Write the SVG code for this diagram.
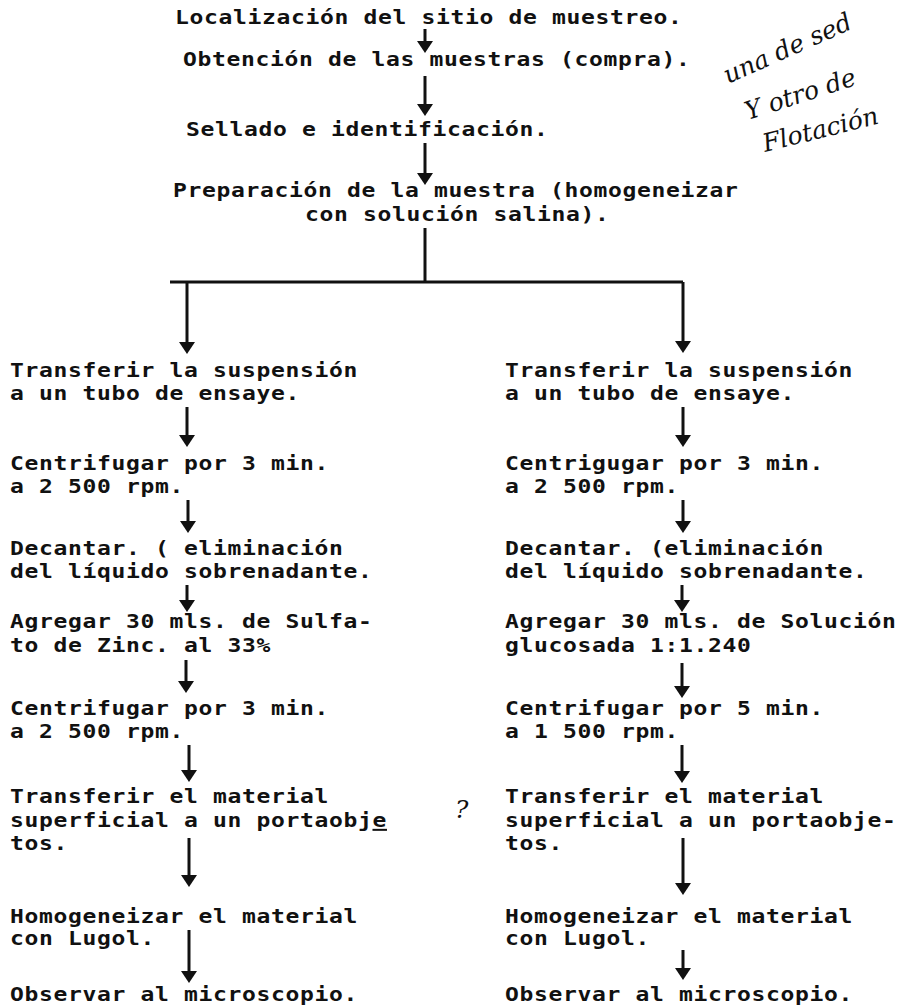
<svg xmlns="http://www.w3.org/2000/svg" width="905" height="1006" viewBox="0 0 905 1006">
<style>
.t{font-family:"DejaVu Sans Mono","Liberation Mono",monospace;font-weight:bold;font-size:20px;letter-spacing:0.57px;fill:#111;white-space:pre;transform-box:fill-box;transform-origin:0 0;transform:scaleX(1.15)}
.c{stroke:#111;stroke-width:3;fill:none}
.h{font-family:"DejaVu Serif","Liberation Serif",serif;font-style:italic;font-size:25px;fill:#111}
</style>
<defs>
<marker id="ah" markerUnits="userSpaceOnUse" markerWidth="14" markerHeight="18" refX="6" refY="8" orient="auto" viewBox="0 0 14 18">
<path d="M0,0 L12,8 L0,16 Z" fill="#111"/>
</marker>
</defs>
<rect width="905" height="1006" fill="#fff"/>

<g id="connectors">
<path class="c" d="M425,29 V47" marker-end="url(#ah)"/>
<path class="c" d="M425,76 V110" marker-end="url(#ah)"/>
<path class="c" d="M425,143 V179" marker-end="url(#ah)"/>
<path class="c" d="M425,228 V282"/>
<path class="c" d="M170,282 H683"/>
<path class="c" d="M187,282 V348" marker-end="url(#ah)"/>
<path class="c" d="M683,282 V347" marker-end="url(#ah)"/>
<path class="c" d="M187,407 V441" marker-end="url(#ah)"/>
<path class="c" d="M188,500 V527" marker-end="url(#ah)"/>
<path class="c" d="M187,585 V606" marker-end="url(#ah)"/>
<path class="c" d="M186,660 V687" marker-end="url(#ah)"/>
<path class="c" d="M189,745 V776" marker-end="url(#ah)"/>
<path class="c" d="M189,838 V881" marker-end="url(#ah)"/>
<path class="c" d="M189,930 V977" marker-end="url(#ah)"/>
<path class="c" d="M683,407 V441" marker-end="url(#ah)"/>
<path class="c" d="M683,500 V527" marker-end="url(#ah)"/>
<path class="c" d="M682,585 V606" marker-end="url(#ah)"/>
<path class="c" d="M682,663 V692" marker-end="url(#ah)"/>
<path class="c" d="M682,745 V777" marker-end="url(#ah)"/>
<path class="c" d="M683,838 V889" marker-end="url(#ah)"/>
<path class="c" d="M683,950 V974" marker-end="url(#ah)"/>
</g>

<g id="n1"><text class="t" x="175" y="24">Localización del sitio de muestreo.</text></g>
<g id="n2"><text class="t" x="183" y="66">Obtención de las muestras (compra).</text></g>
<g id="n3"><text class="t" x="186" y="136">Sellado e identificación.</text></g>
<g id="n4"><text class="t" x="173" y="197">Preparación de la muestra (homogeneizar</text><text class="t" x="305" y="221">con solución salina).</text></g>

<g id="L1"><text class="t" x="10" y="377">Transferir la suspensión</text><text class="t" x="10" y="400">a un tubo de ensaye.</text></g>
<g id="L2"><text class="t" x="10" y="470">Centrifugar por 3 min.</text><text class="t" x="10" y="493">a 2 500 rpm.</text></g>
<g id="L3"><text class="t" x="10" y="555">Decantar. ( eliminación</text><text class="t" x="10" y="578">del líquido sobrenadante.</text></g>
<g id="L4"><text class="t" x="10" y="628">Agregar 30 mls. de Sulfa-</text><text class="t" x="10" y="652">to de Zinc. al 33%</text></g>
<g id="L5"><text class="t" x="10" y="715">Centrifugar por 3 min.</text><text class="t" x="10" y="738">a 2 500 rpm.</text></g>
<g id="L6"><text class="t" x="10" y="803">Transferir el material</text><text class="t" x="10" y="827">superficial a un portaobj<tspan text-decoration="underline">e</tspan></text><text class="t" x="10" y="850">tos.</text></g>
<g id="L7"><text class="t" x="10" y="923">Homogeneizar el material</text><text class="t" x="10" y="945">con Lugol.</text></g>
<g id="L8"><text class="t" x="10" y="1001">Observar al microscopio.</text></g>

<g id="R1"><text class="t" x="505" y="377">Transferir la suspensión</text><text class="t" x="505" y="400">a un tubo de ensaye.</text></g>
<g id="R2"><text class="t" x="505" y="470">Centrigugar por 3 min.</text><text class="t" x="505" y="493">a 2 500 rpm.</text></g>
<g id="R3"><text class="t" x="505" y="555">Decantar. (eliminación</text><text class="t" x="505" y="578">del líquido sobrenadante.</text></g>
<g id="R4"><text class="t" x="505" y="628">Agregar 30 mls. de Solución</text><text class="t" x="505" y="652">glucosada 1:1.240</text></g>
<g id="R5"><text class="t" x="505" y="715">Centrifugar por 5 min.</text><text class="t" x="505" y="738">a 1 500 rpm.</text></g>
<g id="R6"><text class="t" x="505" y="803">Transferir el material</text><text class="t" x="505" y="827">superficial a un portaobje-</text><text class="t" x="505" y="850">tos.</text></g>
<g id="R7"><text class="t" x="505" y="923">Homogeneizar el material</text><text class="t" x="505" y="945">con Lugol.</text></g>
<g id="R8"><text class="t" x="505" y="1001">Observar al microscopio.</text></g>

<g id="notes">
<text class="h" transform="translate(728,84) rotate(-24)">una de sed</text>
<text class="h" transform="translate(748,120) rotate(-18)">Y otro de</text>
<text class="h" transform="translate(765,152) rotate(-14)" font-size="23">Flotación</text>
<text class="h" x="455" y="818" font-size="20">?</text>
</g>
</svg>
